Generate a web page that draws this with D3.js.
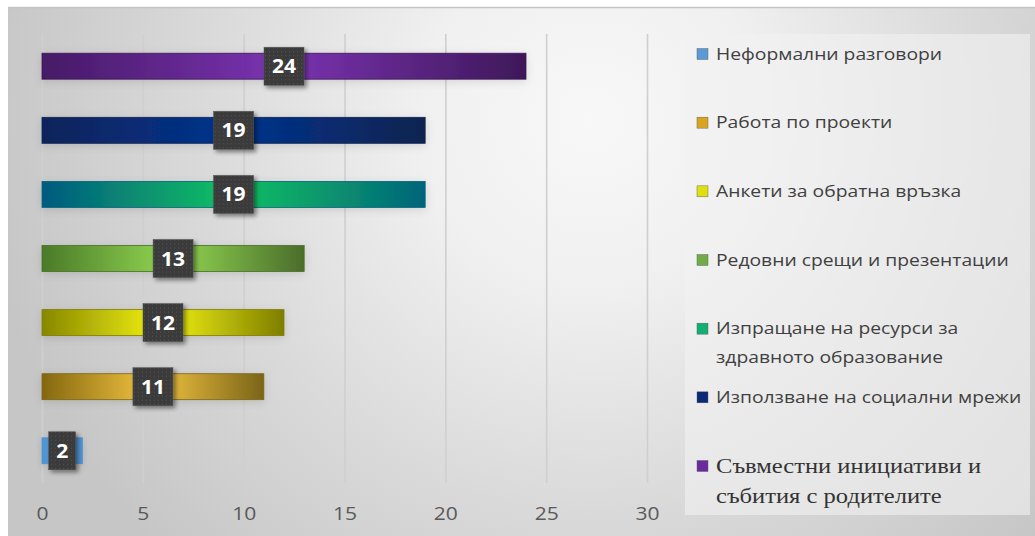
<!DOCTYPE html>
<html>
<head>
<meta charset="utf-8">
<script src="https://cdn.jsdelivr.net/npm/d3@7"></script>
<style>
  html, body { margin: 0; padding: 0; background: #fff; }
  svg { display: block; }
</style>
</head>
<body>
<svg id="chart" width="1035" height="536"></svg>
<script>
// Legend order (bottom bar first)
const categories = [
  'Неформални разговори',
  'Работа по проекти',
  'Анкети за обратна връзка',
  'Редовни срещи и презентации',
  'Изпращане на ресурси за\nздравното образование',
  'Използване на социални мрежи',
  'Съвместни инициативи и\nсъбития с родителите'
];
const values = [2, 11, 12, 13, 19, 19, 24];
const xTicks = [0, 5, 10, 15, 20, 25, 30];
// [left, middle, right] gradient stops per bar
const barColors = [
  ['#4f93d2', '#5ba0e0', '#4f93d2'],
  ['#84670f', '#f5c542', '#7a6418'],
  ['#878700', '#f4f412', '#7e7e00'],
  ['#4a7a28', '#93d852', '#4a6d2a'],
  ['#005a80', '#14c262', '#00647a'],
  ['#10245a', '#00338f', '#10244f'],
  ['#461a66', '#7a33b2', '#3e1858']
];
const legendSwatch = ['#5b9bd5', '#d9a520', '#dede10', '#70ad47', '#12b070', '#0a2a78', '#6a2aa0'];

const svg = d3.select('#chart');
const W = 1035, H = 536;
const SX = 1.17; // source picture is stretched horizontally
const defs = svg.append('defs');

// background
const bg = defs.append('radialGradient').attr('id', 'bg')
  .attr('gradientUnits', 'userSpaceOnUse')
  .attr('cx', 590).attr('cy', 120).attr('r', 610);
bg.append('stop').attr('offset', 0).attr('stop-color', '#f8f8f8');
bg.append('stop').attr('offset', 0.28).attr('stop-color', '#f0f0f0');
bg.append('stop').attr('offset', 0.65).attr('stop-color', '#d9d9d9');
bg.append('stop').attr('offset', 1).attr('stop-color', '#c6c6c6');

const gridGrad = defs.append('linearGradient').attr('id', 'gridGrad')
  .attr('gradientUnits', 'userSpaceOnUse').attr('x1', 0).attr('y1', 34).attr('x2', 0).attr('y2', 483);
gridGrad.append('stop').attr('offset', 0).attr('stop-color', '#cfcfcf');
gridGrad.append('stop').attr('offset', 1).attr('stop-color', '#8e8e8e');

barColors.forEach((c, i) => {
  const g = defs.append('linearGradient').attr('id', 'bar' + i)
    .attr('x1', 0).attr('x2', 1).attr('y1', 0).attr('y2', 0);
  g.append('stop').attr('offset', 0).attr('stop-color', c[0]);
  g.append('stop').attr('offset', 0.5).attr('stop-color', c[1]);
  g.append('stop').attr('offset', 1).attr('stop-color', c[2]);
});

const shadow = defs.append('filter').attr('id', 'shadow')
  .attr('x', '-30%').attr('y', '-30%').attr('width', '170%').attr('height', '170%');
shadow.append('feDropShadow').attr('dx', 2.5).attr('dy', 2.5).attr('stdDeviation', 2)
  .attr('flood-color', '#000').attr('flood-opacity', 0.45);

const soft = defs.append('filter').attr('id', 'soft')
  .attr('x', '-10%').attr('y', '-60%').attr('width', '120%').attr('height', '220%');
soft.append('feDropShadow').attr('dx', 0).attr('dy', 2).attr('stdDeviation', 4)
  .attr('flood-color', '#000').attr('flood-opacity', 0.12);

const dots = defs.append('pattern').attr('id', 'dots')
  .attr('patternUnits', 'userSpaceOnUse').attr('width', 4).attr('height', 4);
dots.append('rect').attr('width', 4).attr('height', 4).attr('fill', '#3b3b3b');
dots.append('rect').attr('x', 1).attr('y', 1).attr('width', 1).attr('height', 1).attr('fill', '#555');

svg.append('rect').attr('width', W).attr('height', H).attr('fill', '#fff');
svg.append('rect').attr('x', 8).attr('y', 8).attr('width', W - 8).attr('height', H - 8).attr('fill', 'url(#bg)');
svg.append('line').attr('x1', 8).attr('x2', W).attr('y1', 7.5).attr('y2', 7.5)
  .attr('stroke', '#c4c4c4').attr('stroke-width', 1.5);

// scales
const x = d3.scaleLinear().domain([0, 30]).range([42, 647]);
const y = d3.scaleBand().domain(d3.range(categories.length).reverse()).range([34, 483]).paddingInner(0.595).paddingOuter(0.3);

// grid + axis
const axis = svg.append('g').attr('transform', 'translate(0,483)')
  .call(d3.axisBottom(x).tickValues(xTicks).tickSize(-449).tickPadding(0));
axis.select('.domain').remove();
axis.selectAll('.tick line').attr('stroke', 'url(#gridGrad)').attr('stroke-width', 1.6);
axis.selectAll('.tick text').attr('fill', '#595959').attr('dy', null).attr('y', null)
  .attr('transform', `translate(0,36.5) scale(${SX},1)`)
  .style('font-family', '"Open Sans", sans-serif').style('font-size', '18px');

// bars
svg.append('g').selectAll('rect').data(values).join('rect')
  .attr('x', x(0))
  .attr('y', (d, i) => y(i))
  .attr('width', d => x(d) - x(0))
  .attr('height', y.bandwidth())
  .attr('fill', (d, i) => 'url(#bar' + i + ')')
  .attr('stroke', (d, i) => barColors[i][2])
  .attr('stroke-width', 0.8)
  .attr('filter', 'url(#soft)');

// data labels
const lab = svg.append('g').selectAll('g').data(values).join('g')
  .attr('transform', (d, i) => `translate(${x(d / 2)},${y(i) + y.bandwidth() / 2})`);
lab.append('rect')
  .attr('x', d => -(14 + 13 * String(d).length) / 2).attr('y', -19)
  .attr('width', d => 14 + 13 * String(d).length).attr('height', 38)
  .attr('fill', 'url(#dots)').attr('stroke', '#555').attr('stroke-width', 0.5)
  .attr('filter', 'url(#shadow)');
lab.append('text').attr('text-anchor', 'middle').attr('dy', '0.36em')
  .attr('transform', 'scale(1.08,1)')
  .attr('fill', '#fff').style('font-family', '"Open Sans", sans-serif')
  .style('font-size', '19.5px').style('font-weight', 'bold')
  .text(d => d);

// legend
svg.append('rect').attr('x', 685).attr('y', 34).attr('width', 345).attr('height', 481)
  .attr('fill', '#f2f2f2').attr('fill-opacity', 0.6);
const ly = d3.scaleLinear().domain([0, categories.length - 1]).range([54, 466]);
const leg = svg.append('g').selectAll('g').data(categories).join('g')
  .attr('transform', (d, i) => `translate(697,${ly(i)})`);
leg.append('rect').attr('x', 0).attr('y', -5.5).attr('width', 11).attr('height', 11)
  .attr('fill', (d, i) => legendSwatch[i]).attr('stroke', '#555').attr('stroke-width', 0.4);
leg.each(function (d, i) {
  const serif = i === categories.length - 1;
  const t = d3.select(this).append('text')
    .attr('transform', `translate(19,0) scale(${SX},1)`)
    .attr('fill', serif ? '#333' : '#404040')
    .style('font-family', serif ? '"Liberation Serif", serif' : '"Open Sans", sans-serif')
    .style('font-size', serif ? '21px' : '16.5px');
  d.split('\n').forEach((line, k) => {
    t.append('tspan').attr('x', 0).attr('y', k * (serif ? 30 : 29)).attr('dy', '0.35em').text(line);
  });
});
</script>
</body>
</html>
